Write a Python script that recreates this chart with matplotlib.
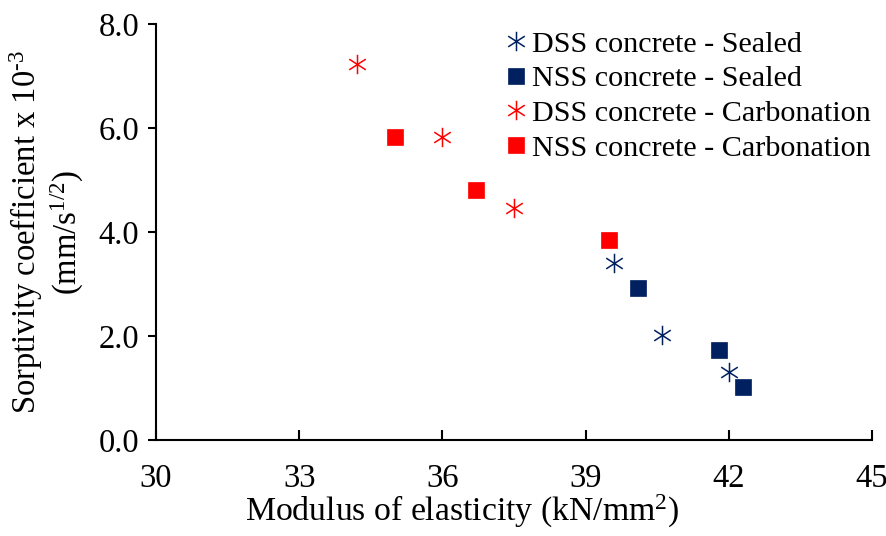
import matplotlib
matplotlib.use("Agg")
import matplotlib.pyplot as plt
from matplotlib.path import Path

plt.rcParams["font.family"] = ["Liberation Serif", "DejaVu Serif"]
plt.rcParams["mathtext.fontset"] = "custom"
plt.rcParams["mathtext.rm"] = "Liberation Serif"
plt.rcParams["mathtext.it"] = "Liberation Serif:italic"

# Modulus of elasticity (kN/mm2) vs sorptivity coefficient (x10^-3 mm/s^1/2)
dss_sealed_x = [39.6, 40.6, 42.0]
dss_sealed_y = [3.40, 2.02, 1.31]
nss_sealed_x = [40.1, 41.8, 42.3]
nss_sealed_y = [2.92, 1.74, 1.03]
dss_carb_x = [34.2, 36.0, 37.5]
dss_carb_y = [7.24, 5.83, 4.46]
nss_carb_x = [35.0, 36.7, 39.5]
nss_carb_y = [5.83, 4.80, 3.85]

labels = ["DSS concrete - Sealed", "NSS concrete - Sealed",
          "DSS concrete - Carbonation", "NSS concrete - Carbonation"]
xticks = [30, 33, 36, 39, 42, 45]
yticks = [0.0, 2.0, 4.0, 6.0, 8.0]

navy = "#002060"
red = "#FF0000"

# six-armed asterisk: vertical stroke plus two diagonals
star = Path(
    [(0, 1), (0, -1), (-0.85, 0.55), (0.85, -0.55), (-0.85, -0.55), (0.85, 0.55)],
    [Path.MOVETO, Path.LINETO, Path.MOVETO, Path.LINETO, Path.MOVETO, Path.LINETO],
)

fig = plt.figure(figsize=(8.87, 5.36), dpi=100)
ax = fig.add_axes([0.176, 0.179, 0.807, 0.776])

star_kw = dict(linestyle="none", marker=star, markersize=14, markerfacecolor="none",
               markeredgewidth=1.1)
sq_kw = dict(linestyle="none", marker="s", markersize=11, markeredgewidth=0.5)

ax.plot(dss_sealed_x, dss_sealed_y, markeredgecolor=navy, label=labels[0], **star_kw)
ax.plot(nss_sealed_x, nss_sealed_y, markeredgecolor=navy, markerfacecolor=navy,
        label=labels[1], **sq_kw)
ax.plot(dss_carb_x, dss_carb_y, markeredgecolor=red, label=labels[2], **star_kw)
ax.plot(nss_carb_x, nss_carb_y, markeredgecolor=red, markerfacecolor=red,
        label=labels[3], **sq_kw)

ax.set_xlim(30, 45)
ax.set_ylim(0, 8)
ax.set_xticks(xticks)
ax.set_xticklabels([str(v) for v in xticks])
ax.set_yticks(yticks)
ax.set_yticklabels([f"{v:.1f}" for v in yticks])

for s in ("top", "right"):
    ax.spines[s].set_visible(False)
for s in ("left", "bottom"):
    ax.spines[s].set_linewidth(1.5)
    ax.spines[s].set_color("black")

ax.tick_params(axis="x", direction="in", length=7, width=1.5, labelsize=23.5, pad=17)
ax.tick_params(axis="y", direction="out", length=6, width=1.5, labelsize=23.5, pad=6)

ax.set_xlabel("Modulus of elasticity (kN/mm$^{2}$)", fontsize=24.3)
ax.xaxis.set_label_coords(0.427, -0.127)
ax.set_ylabel("Sorptivity coefficient x 10$^{\\text{-}3}$\n(mm/s$^{1/2}$)", fontsize=23.5,
              labelpad=9, linespacing=1.15)

ax.legend(loc="upper left", bbox_to_anchor=(0.46, 1.035), frameon=False, fontsize=21.7,
          handlelength=0.6, handletextpad=0.25, labelspacing=0.25, borderpad=0.2)

fig.savefig("out.png", dpi=100)
